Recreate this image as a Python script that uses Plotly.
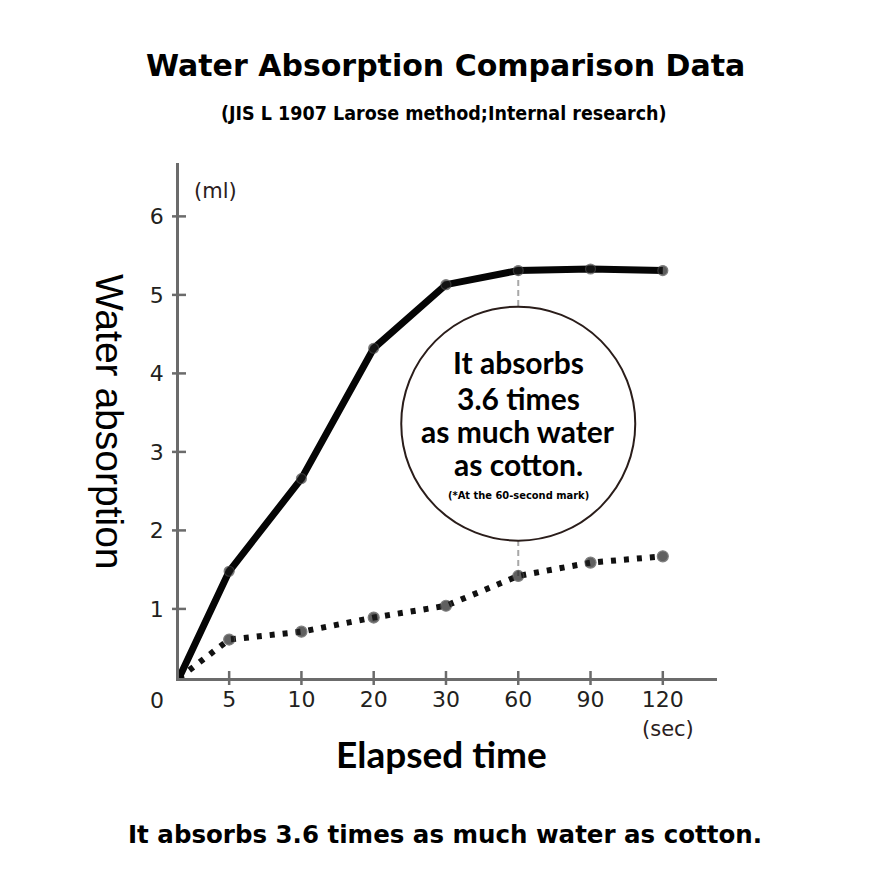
import plotly.graph_objects as go

# --- data ---
elapsed_sec = ["0", "5", "10", "20", "30", "60", "90", "120"]
ours_ml = [0.12, 1.48, 2.66, 4.32, 5.13, 5.31, 5.33, 5.31]
cotton_ml = [0.12, 0.61, 0.71, 0.89, 1.04, 1.42, 1.59, 1.67]
y_tick_vals = [1, 2, 3, 4, 5, 6]

title = "Water Absorption Comparison Data"
subtitle = "(JIS L 1907 Larose method;Internal research)"
y_title = "Water absorption"
x_title = "Elapsed time"
callout_lines = ["It absorbs", "3.6 times", "as much water", "as cotton."]
callout_note = "(*At the 60-second mark)"
caption = "It absorbs 3.6 times as much water as cotton."

# --- layout geometry ---
# the page body keeps its default 8px margin, so the figure is shrunk by that much
OFF = 8
W, H = 890 - 2 * OFF, 889 - 2 * OFF
PLOT_W, PLOT_H = 538, 515
L, T = 179 - OFF, 163 - OFF
R, B = W - L - PLOT_W, H - T - PLOT_H
X_START, X_END = 0.306, 7.75   # axis starts a little right of the "0" slot
Y_START, Y_END = 0.12, 6.68
AXIS_GREY = "#6b6b6b"
TICK_FONT = "DejaVu Sans"
NARROW = "DejaVu Sans Condensed, Liberation Sans Narrow, sans-serif"

# x position of every category; the first one sits on the y axis
x_pos = list(range(len(elapsed_sec)))
x_pos[0] = X_START
callout_idx = elapsed_sec.index("60")


def paper(x, y):
    """position in the page (px) -> paper coordinates"""
    return (x - OFF - L) / PLOT_W, (T + PLOT_H - (y - OFF)) / PLOT_H


fig = go.Figure()

fig.add_trace(go.Scatter(
    x=x_pos, y=cotton_ml, mode="lines+markers", cliponaxis=False,
    line=dict(color="#111111", width=6, dash="5px,8px"),
    marker=dict(size=[0] + [11] * (len(cotton_ml) - 1), color="#1e1e1e",
                line=dict(color="#4a4a4a", width=1.2)),
    showlegend=False,
))
fig.add_trace(go.Scatter(
    x=x_pos, y=ours_ml, mode="lines+markers", cliponaxis=False,
    line=dict(color="#050505", width=7),
    marker=dict(size=[0] + [10] * (len(ours_ml) - 1), color="#1a1a1a",
                line=dict(color="#4a4a4a", width=1.2)),
    showlegend=False,
))

# crossing tick marks on both axes
fig.add_trace(go.Scatter(
    x=x_pos[1:], y=[Y_START] * (len(x_pos) - 1), mode="markers", cliponaxis=False,
    marker=dict(symbol="line-ns-open", size=10, color=AXIS_GREY,
                line=dict(color=AXIS_GREY, width=2.5)),
    hoverinfo="skip", showlegend=False,
))
fig.add_trace(go.Scatter(
    x=[X_START] * len(y_tick_vals), y=y_tick_vals, mode="markers", cliponaxis=False,
    marker=dict(symbol="line-ew-open", size=10, color=AXIS_GREY,
                line=dict(color=AXIS_GREY, width=2.5)),
    hoverinfo="skip", showlegend=False,
))

# dashed guide at 60 s and the call-out circle
fig.add_shape(type="line", layer="below",
              x0=x_pos[callout_idx], x1=x_pos[callout_idx],
              y0=cotton_ml[callout_idx], y1=ours_ml[callout_idx],
              line=dict(color="#a8a8a8", width=2, dash="6px,4px"))
fig.add_shape(type="circle", layer="below",
              xsizemode="pixel", ysizemode="pixel",
              xanchor=x_pos[callout_idx], yanchor=3.36,
              x0=-117, x1=117, y0=-117, y1=117,
              fillcolor="white", line=dict(color="#2a1d1a", width=2))

callout_y = [362, 398, 431, 464]
for txt, py in zip(callout_lines, callout_y):
    fig.add_annotation(x=x_pos[callout_idx], y=paper(0, py)[1], xref="x", yref="paper",
                       text=txt, showarrow=False, yanchor="middle",
                       font=dict(family="Lato", size=30, weight="bold", color="#000000"))
fig.add_annotation(x=x_pos[callout_idx], y=paper(0, 495)[1], xref="x", yref="paper",
                   text=callout_note, showarrow=False, yanchor="middle",
                   font=dict(family=NARROW, size=11, weight="bold", color="#000000"))


def label(text, x, y, font, **kw):
    px_, py_ = paper(x, y)
    fig.add_annotation(x=px_, y=py_, xref="paper", yref="paper", text=text,
                       showarrow=False, xanchor="center", yanchor="middle", font=font, **kw)


label(title, 445, 66, dict(family="DejaVu Sans", size=30, weight="bold", color="#000000"))
label(subtitle, 444, 113, dict(family=NARROW, size=19.5, weight="bold", color="#000000"))
label(y_title, 110, 422, dict(family="Liberation Sans", size=39, color="#000000"), textangle=90)
label(x_title, 441, 753, dict(family="Lato", size=37, weight="bold", color="#000000"))
label(caption, 445, 834, dict(family="DejaVu Sans", size=24.5, weight="bold", color="#000000"))
label("(ml)", 215, 191, dict(family=TICK_FONT, size=21, color="#2b2020"))
label("(sec)", 668, 729, dict(family=TICK_FONT, size=21, color="#2b2020"))
label(elapsed_sec[0], 157, 700, dict(family=TICK_FONT, size=22, color="#231f20"))

fig.update_xaxes(
    range=[X_START, X_END], showgrid=False, zeroline=False,
    showline=True, linecolor=AXIS_GREY, linewidth=2.5,
    tickmode="array", tickvals=x_pos[1:], ticktext=elapsed_sec[1:],
    ticks="", ticklabelstandoff=0,
    tickfont=dict(family=TICK_FONT, size=22, color="#231f20"),
)
fig.update_yaxes(
    range=[Y_START, Y_END], showgrid=False, zeroline=False,
    showline=True, linecolor=AXIS_GREY, linewidth=2.5,
    tickmode="array", tickvals=y_tick_vals,
    ticks="", ticklabelstandoff=8,
    tickfont=dict(family=TICK_FONT, size=22, color="#231f20"),
)
fig.update_layout(
    width=W, height=H,
    margin=dict(l=L, r=R, t=T, b=B),
    paper_bgcolor="white", plot_bgcolor="white",
    hovermode=False,
)

fig.write_html("out.html")
